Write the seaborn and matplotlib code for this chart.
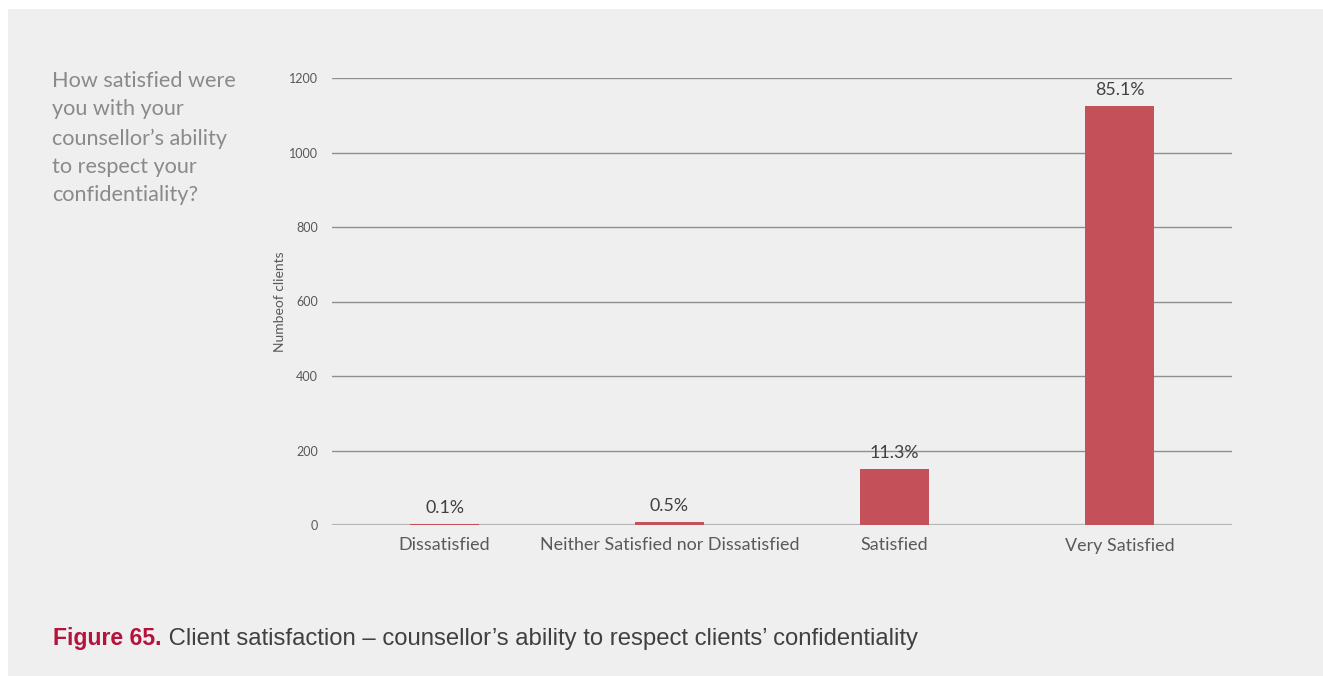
import matplotlib
matplotlib.use("Agg")
import matplotlib.pyplot as plt
from matplotlib.patches import Rectangle
import seaborn as sns
import pandas as pd

categories = ["Dissatisfied", "Neither Satisfied nor Dissatisfied", "Satisfied", "Very Satisfied"]
counts = [2, 7, 149, 1125]
pct_labels = ["0.1%", "0.5%", "11.3%", "85.1%"]
y_ticks = [0, 200, 400, 600, 800, 1000, 1200]

question = "How satisfied were\nyou with your\ncounsellor\u2019s ability\nto respect your\nconfidentiality?"
fig_num = "Figure 65."
caption = " Client satisfaction \u2013 counsellor\u2019s ability to respect clients\u2019 confidentiality"

sns.set_theme(style="white")
plt.rcParams["font.family"] = ["Lato", "DejaVu Sans"]

PANEL = "#efefef"
BAR = "#c4505a"
W, H = 1323, 676

fig = plt.figure(figsize=(W / 100, H / 100), dpi=100, facecolor="white")
fig.patches.append(Rectangle((8 / W, -0.01), 1.0, 1 - 9 / H + 0.01, transform=fig.transFigure,
                             facecolor=PANEL, edgecolor="none", zorder=-10))

ax = fig.add_axes([332 / W, 1 - 525 / H, (1232 - 332) / W, (525 - 78) / H])
ax.set_facecolor(PANEL)

df = pd.DataFrame({"category": categories, "count": counts})
sns.barplot(data=df, x="category", y="count", order=categories, color=BAR,
            saturation=1, width=0.31, linewidth=0, ax=ax, zorder=5)

ax.set_ylim(0, 1200)
ax.set_xlim(-0.5, len(categories) - 0.5)
ax.set_yticks(y_ticks)
ax.set_yticklabels([str(t) for t in y_ticks], fontsize=9, color="#595959")
for t in y_ticks[1:]:
    ax.axhline(t, color="#8f8f8f", lw=1.0, zorder=1)
ax.axhline(0, color="#b5b5b5", lw=1.6, zorder=2)
for s in ax.spines.values():
    s.set_visible(False)
ax.tick_params(axis="y", length=0, pad=10)
ax.tick_params(axis="x", length=0, pad=9, labelsize=12.9, labelcolor="#595959")
ax.set_xlabel("")
ax.set_ylabel("Numbeof clients", fontsize=10, color="#595959", labelpad=2)

for i, (c, lab) in enumerate(zip(counts, pct_labels)):
    ax.annotate(lab, (i, c), xytext=(0, 6), textcoords="offset points",
                ha="center", va="bottom", fontsize=12.8, color="#404040", zorder=6)

fig.text(52 / W, 1 - 71 / H, question, ha="left", va="top", fontsize=15.6,
         color="#8a8a8a", linespacing=1.53)

t1 = fig.text(53 / W, 1 - 645 / H, fig_num, ha="left", va="baseline", fontsize=16.6,
              color="#b5123e", fontweight="bold", family=["Liberation Sans", "DejaVu Sans"])
fig.canvas.draw()
bb = t1.get_window_extent()
fig.text(bb.x1 / W, 1 - 645 / H, caption, ha="left", va="baseline", fontsize=17.2,
         color="#404040", family=["Liberation Sans", "DejaVu Sans"])

fig.savefig("out.png", dpi=100, facecolor="white")
